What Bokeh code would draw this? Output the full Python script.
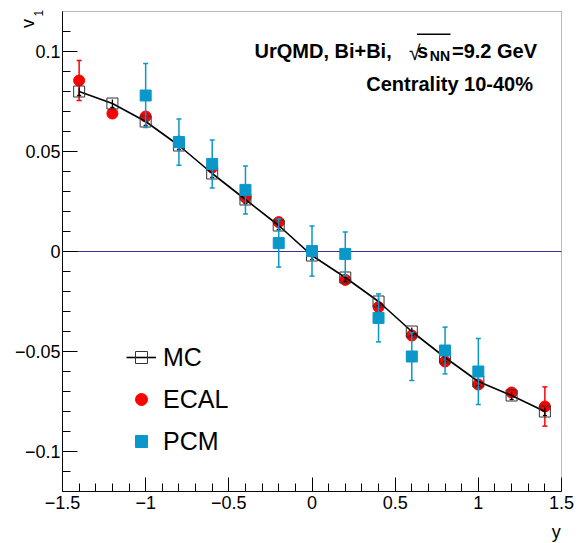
from bokeh.plotting import figure
from bokeh.models import (Range1d, FixedTicker, Label, Legend, LegendItem,
                          BoxAnnotation, ColumnDataSource, LinearAxis)
from bokeh.embed import file_html
from bokeh.resources import INLINE

# ---------------- data ----------------
rapidity = [-1.4, -1.2, -1.0, -0.8, -0.6, -0.4, -0.2, 0.0, 0.2, 0.4, 0.6, 0.8, 1.0, 1.2, 1.4]

mc_v1 = [0.080, 0.074, 0.065, 0.053, 0.039, 0.026, 0.013, -0.002,
         -0.013, -0.025, -0.040, -0.053, -0.065, -0.072, -0.080]
mc_err = [0.002, 0.002, 0.002, 0.002, 0.002, 0.002, 0.002, 0.002,
          0.002, 0.002, 0.002, 0.002, 0.002, 0.002, 0.002]

ecal_v1 = [0.0855, 0.069, 0.0675, 0.055, 0.042, 0.027, 0.0147, 0.0,
           -0.0142, -0.0278, -0.042, -0.055, -0.0665, -0.0705, -0.0775]
ecal_err = [0.010, 0.002, 0.002, 0.002, 0.002, 0.002, 0.002, 0.002,
            0.002, 0.002, 0.002, 0.002, 0.002, 0.002, 0.0098]

pcm_rapidity = [-1.0, -0.8, -0.6, -0.4, -0.2, 0.0, 0.2, 0.4, 0.6, 0.8, 1.0]
pcm_v1 = [0.078, 0.0547, 0.0438, 0.0308, 0.0042, 0.0002, -0.0012, -0.0332, -0.0525, -0.0495, -0.060]
pcm_err = [0.016, 0.0116, 0.012, 0.012, 0.012, 0.0125, 0.011, 0.012, 0.012, 0.0117, 0.0165]

# axis ranges and ticks
X_MIN, X_MAX = -1.5, 1.5
Y_MIN, Y_MAX = -0.12, 0.12
x_ticks = [-1.5, -1.0, -0.5, 0.0, 0.5, 1.0, 1.5]
x_tick_labels = ["\u22121.5", "\u22121", "\u22120.5", "0", "0.5", "1", "1.5"]
x_minor = [-1.4, -1.3, -1.2, -1.1, -0.9, -0.8, -0.7, -0.6, -0.4, -0.3, -0.2, -0.1,
           0.1, 0.2, 0.3, 0.4, 0.6, 0.7, 0.8, 0.9, 1.1, 1.2, 1.3, 1.4]
y_ticks = [-0.1, -0.05, 0.0, 0.05, 0.1]
y_tick_labels = ["\u22120.1", "\u22120.05", "0", "0.05", "0.1"]
y_minor = [-0.11, -0.09, -0.08, -0.07, -0.06, -0.04, -0.03, -0.02, -0.01,
           0.01, 0.02, 0.03, 0.04, 0.06, 0.07, 0.08, 0.09, 0.11]

RED = "#ff0000"
BLUE = "#0a98ca"
FONT = "Liberation Sans"

# page layout (pixels)
W, H = 578, 543
BOX_L, BOX_R, BOX_T, BOX_B = 62, 561, 11, 491


def err_source(x, v, e):
    return ColumnDataSource(dict(
        x=x, v=v,
        lo=[a - b for a, b in zip(v, e)],
        hi=[a + b for a, b in zip(v, e)],
    ))


mc_src = err_source(rapidity, mc_v1, mc_err)
ecal_src = err_source(rapidity, ecal_v1, ecal_err)
pcm_src = err_source(pcm_rapidity, pcm_v1, pcm_err)

# the frame covers the whole page; the plotted box is drawn by axes at fixed locations
sx = (X_MAX - X_MIN) / (BOX_R - BOX_L)
sy = (Y_MAX - Y_MIN) / (BOX_B - BOX_T)
x_range = Range1d(X_MIN - BOX_L * sx, X_MAX + (W - BOX_R) * sx)
y_range = Range1d(Y_MIN - (H - BOX_B) * sy, Y_MAX + BOX_T * sy)

p = figure(width=W, height=H, output_backend="svg", toolbar_location=None,
           x_range=x_range, y_range=y_range,
           x_axis_location=None, y_axis_location=None, min_border=0)
p.grid.visible = False
p.outline_line_color = None
p.background_fill_color = "white"
p.border_fill_color = "white"

xa = LinearAxis(fixed_location=Y_MIN, bounds=(X_MIN, X_MAX),
                ticker=FixedTicker(ticks=x_ticks, minor_ticks=x_minor))
ya = LinearAxis(fixed_location=X_MIN, bounds=(Y_MIN, Y_MAX),
                ticker=FixedTicker(ticks=y_ticks, minor_ticks=y_minor))
xa.major_label_overrides = dict(zip(x_ticks, x_tick_labels))
ya.major_label_overrides = dict(zip(y_ticks, y_tick_labels))
for ax, tin in ((xa, 14), (ya, 15)):
    ax.major_tick_in = tin
    ax.major_tick_out = 0
    ax.minor_tick_in = 8
    ax.minor_tick_out = 0
    ax.major_tick_line_color = "black"
    ax.minor_tick_line_color = "black"
    ax.axis_line_color = "black"
    ax.major_label_text_font = FONT
    ax.major_label_text_font_size = "18px"
    ax.major_label_text_color = "black"
xa.major_label_standoff = 4
ya.major_label_standoff = 2
p.add_layout(xa, "below")
p.add_layout(ya, "left")

# horizontal zero line (an unlabelled axis at v1 = 0)
za = LinearAxis(fixed_location=0, bounds=(X_MIN, X_MAX), ticker=FixedTicker(ticks=[]),
                axis_line_color="#333399", axis_line_width=1,
                major_tick_line_color=None, minor_tick_line_color=None,
                major_label_text_font_size="0px", level="underlay")
p.add_layout(za, "below")

# box outline (top and right edges)
p.add_layout(BoxAnnotation(left=X_MIN, right=X_MAX, bottom=Y_MIN, top=Y_MAX,
                           fill_alpha=0, fill_color=None, line_color="#222222",
                           line_width=1))

# ECAL
p.segment(x0="x", y0="lo", x1="x", y1="hi", source=ecal_src, line_color=RED, line_width=1.5)
p.scatter(x="x", y="lo", source=ecal_src, marker="dash", size=5, line_color=RED, line_width=1.5)
p.scatter(x="x", y="hi", source=ecal_src, marker="dash", size=5, line_color=RED, line_width=1.5)
ecal_pts = p.scatter(x="x", y="v", source=ecal_src, marker="circle", size=11,
                     fill_color=RED, line_color=RED)

# MC
mc_line = p.line(x="x", y="v", source=mc_src, line_color="black", line_width=1.6)
p.segment(x0="x", y0="lo", x1="x", y1="hi", source=mc_src, line_color="black", line_width=1.3)
p.scatter(x="x", y="lo", source=mc_src, marker="dash", size=4, line_color="black", line_width=1.3)
mc_pts = p.scatter(x="x", y="v", source=mc_src, marker="square", size=11,
                   fill_alpha=0, line_color="#333333", line_width=1)

# PCM
p.segment(x0="x", y0="lo", x1="x", y1="hi", source=pcm_src, line_color=BLUE, line_width=1.5)
p.scatter(x="x", y="lo", source=pcm_src, marker="dash", size=5, line_color=BLUE, line_width=1.5)
p.scatter(x="x", y="hi", source=pcm_src, marker="dash", size=5, line_color=BLUE, line_width=1.5)
pcm_pts = p.scatter(x="x", y="v", source=pcm_src, marker="square", size=11,
                    fill_color=BLUE, line_color=BLUE)

legend = Legend(items=[LegendItem(label="MC", renderers=[mc_line, mc_pts]),
                       LegendItem(label="ECAL", renderers=[ecal_pts]),
                       LegendItem(label="PCM", renderers=[pcm_pts])],
                location=(126, H - 456), orientation="vertical",
                glyph_width=30, glyph_height=30, label_height=30, spacing=12,
                padding=0, margin=0, border_line_alpha=0, background_fill_alpha=0,
                label_standoff=7, label_text_font=FONT, label_text_font_size="25px",
                label_text_baseline="middle", label_text_color="black")
p.add_layout(legend)


# ---------------- texts (page pixels, from the top-left) ----------------
def lab(text, px, py, size, style="bold", align="left", angle=0.0, font=FONT,
        baseline="alphabetic"):
    p.add_layout(Label(x=px, y=H - py, x_units="screen", y_units="screen",
                       text=text, text_font=font, text_font_style=style,
                       text_font_size=size, text_align=align,
                       text_baseline=baseline, angle=angle, text_color="black"))


lab("UrQMD, Bi+Bi,", 254, 50, "20px")
lab("\u221a", 408.5, 51.5, "21px", style="normal")
lab("s", 416.5, 50, "20px")
lab("NN", 429.3, 55, "14px")
lab("=9.2 GeV", 451.5, 50, "20px")
lab("Centrality 10-40%", 532.5, 83, "20px", align="right")
p.add_layout(BoxAnnotation(left=416.5, right=450, top=H - 33, bottom=H - 34.6,
                           left_units="screen", right_units="screen",
                           top_units="screen", bottom_units="screen",
                           fill_color="black", fill_alpha=1, line_alpha=0))

lab("y", 555.7, 531, "18px", style="normal", align="center")
lab("v", 27.3, 27.5, "18px", style="normal", angle=1.5708)
lab("1", 37.5, 16, "12px", style="normal", angle=1.5708)

open("out.html", "w").write(file_html(p, INLINE))
